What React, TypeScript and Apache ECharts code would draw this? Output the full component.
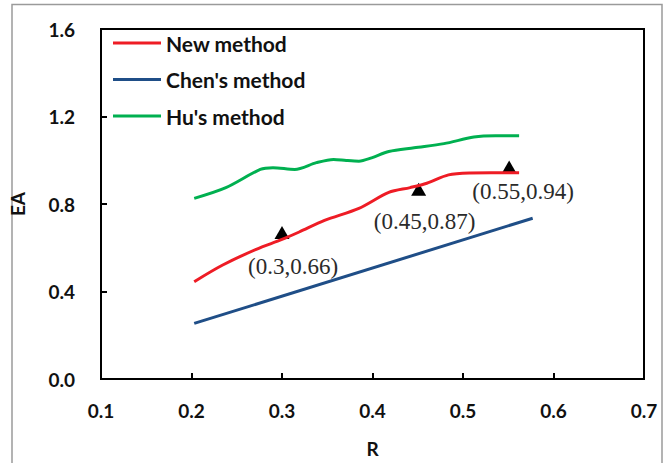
import React, { useEffect, useRef } from "react";
import * as echarts from "echarts";

const newMethod: [number, number][] = [
  [0.203, 0.445], [0.234, 0.52], [0.2715, 0.593], [0.3, 0.638], [0.319, 0.672],
  [0.347, 0.725], [0.385, 0.78], [0.418, 0.853], [0.4416, 0.875], [0.46, 0.895],
  [0.484, 0.933], [0.508, 0.942], [0.531, 0.943], [0.562, 0.943],
];
const chenMethod: [number, number][] = [
  [0.203, 0.254], [0.577, 0.735],
];
const huMethod: [number, number][] = [
  [0.203, 0.826], [0.238, 0.875], [0.276, 0.958], [0.29, 0.966], [0.314, 0.958],
  [0.338, 0.989], [0.357, 1.004], [0.371, 0.999], [0.385, 0.996], [0.399, 1.011],
  [0.418, 1.04], [0.446, 1.057], [0.479, 1.076], [0.512, 1.106], [0.536, 1.112],
  [0.562, 1.112],
];
const markers: [number, number][] = [[0.3, 0.67], [0.451, 0.868], [0.551, 0.969]];
const markerLabels = ["(0.3,0.66)", "(0.45,0.87)", "(0.55,0.94)"];
const labelOffsets: [number, number][] = [[11, 34], [6, 32], [14, 24]];
const xTicks = { min: 0.1, max: 0.7, interval: 0.1 };
const yTicks = { min: 0, max: 1.6, interval: 0.4 };

export default function App() {
  const ref = useRef<HTMLDivElement>(null);
  useEffect(() => {
    if (!ref.current) return;
    const chart = echarts.init(ref.current, undefined, { renderer: "svg" });
    const axisFont = { fontFamily: "Lato", fontWeight: "bold" as const, fontSize: 19, color: "#111" };
    chart.setOption({
      animation: false,
      backgroundColor: "#fff",
      grid: {
        left: 101, right: 25, top: 29, bottom: 81,
        show: true, borderColor: "#000", borderWidth: 2, backgroundColor: "transparent",
      },
      graphic: [
        {
          type: "rect",
          shape: { x: 12, y: 4.5, width: 650, height: 470 },
          style: { fill: "none", stroke: "#9a9a9a", lineWidth: 1.5 },
          silent: true,
        },
      ],
      legend: {
        orient: "vertical",
        left: 113,
        top: 32,
        padding: 0,
        itemWidth: 48,
        itemHeight: 3,
        itemGap: 14.5,
        icon: "rect",
        textStyle: { fontFamily: "Lato", fontWeight: "bold", fontSize: 21, color: "#111", lineHeight: 22 },
        data: ["New method", "Chen's method", "Hu's method"],
      },
      xAxis: {
        type: "value",
        min: xTicks.min, max: xTicks.max, interval: xTicks.interval,
        name: "R",
        nameLocation: "middle",
        nameGap: 60,
        nameTextStyle: axisFont,
        axisLine: { show: true, lineStyle: { color: "#000", width: 2 } },
        axisTick: { show: true, inside: true, length: 6, lineStyle: { color: "#000", width: 2 } },
        splitLine: { show: false },
        axisLabel: { ...axisFont, margin: 22, formatter: (v: number) => v.toFixed(1) },
      },
      yAxis: {
        type: "value",
        min: yTicks.min, max: yTicks.max, interval: yTicks.interval,
        name: "EA",
        nameLocation: "middle",
        nameGap: 74,
        nameRotate: 90,
        nameTextStyle: axisFont,
        axisLine: { show: true, lineStyle: { color: "#000", width: 2 } },
        axisTick: { show: true, inside: true, length: 6, lineStyle: { color: "#000", width: 2 } },
        splitLine: { show: false },
        axisLabel: { ...axisFont, margin: 26, formatter: (v: number) => v.toFixed(1) },
      },
      series: [
        {
          name: "New method", type: "line", data: newMethod, smooth: 0.3, showSymbol: false,
          lineStyle: { color: "#ee1c25", width: 3 }, itemStyle: { color: "#ee1c25" },
        },
        {
          name: "Chen's method", type: "line", data: chenMethod, showSymbol: false,
          lineStyle: { color: "#1f4e87", width: 3 }, itemStyle: { color: "#1f4e87" },
        },
        {
          name: "Hu's method", type: "line", data: huMethod, smooth: 0.3, showSymbol: false,
          lineStyle: { color: "#00b050", width: 3 }, itemStyle: { color: "#00b050" },
        },
        {
          name: "points", type: "scatter", symbol: "triangle", symbolSize: [15, 13],
          itemStyle: { color: "#000", opacity: 1 },
          data: markers.map((m, i) => ({
            value: m,
            label: {
              show: true,
              formatter: markerLabels[i],
              position: "inside",
              offset: labelOffsets[i],
              fontFamily: "Liberation Serif",
              fontSize: 23,
              color: "#2a2a2a",
              opacity: 1,
              textBorderWidth: 0,
            },
          })),
        },
      ],
    });
    return () => chart.dispose();
  }, []);
  return (
    <div
      ref={ref}
      style={{ position: "fixed", left: 0, top: 0, width: 669, height: 463 }}
    />
  );
}
